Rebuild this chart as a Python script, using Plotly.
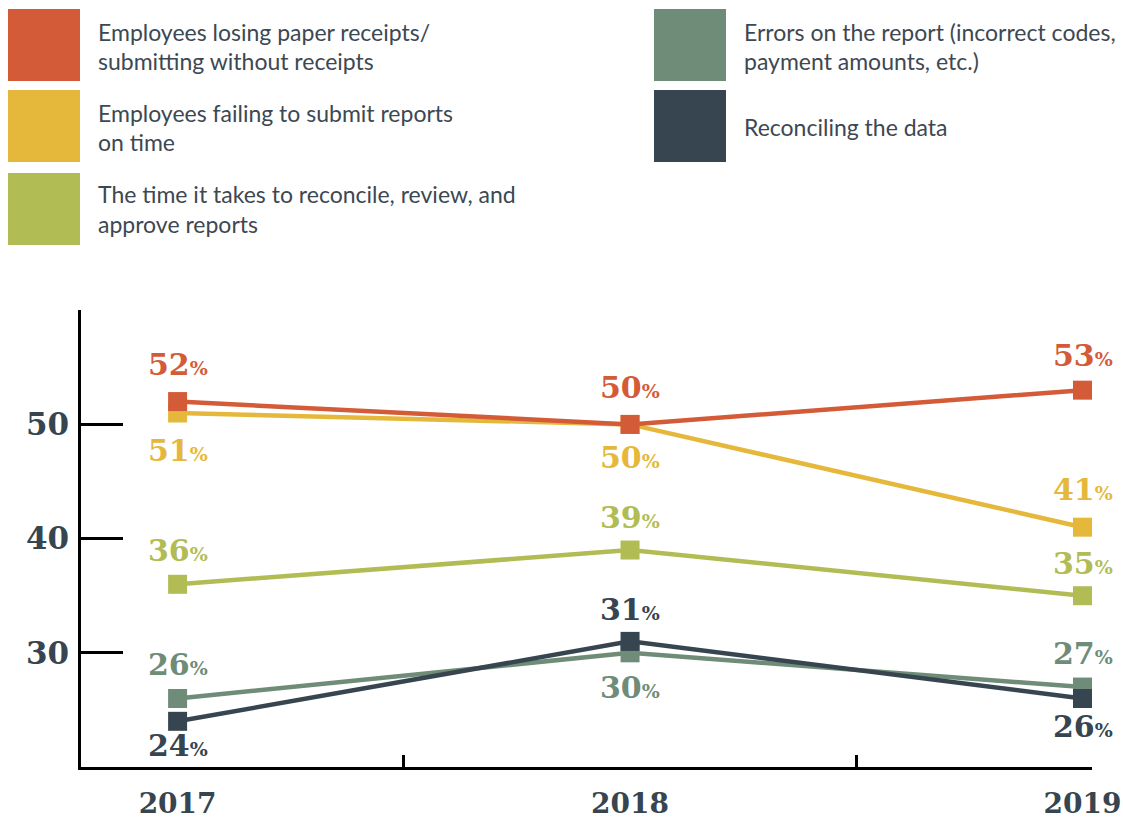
import plotly.graph_objects as go

# ---------------- data ----------------
years = [2017, 2018, 2019]

lost_receipts = [52, 50, 53]
late_reports = [51, 50, 41]
review_time = [36, 39, 35]
report_errors = [26, 30, 27]
reconciling = [24, 31, 26]

series_labels = [
    ["Employees losing paper receipts/", "submitting without receipts"],
    ["Employees failing to submit reports", "on time"],
    ["The time it takes to reconcile, review, and", "approve reports"],
    ["Errors on the report (incorrect codes,", "payment amounts, etc.)"],
    ["Reconciling the data"],
]
series_values = [lost_receipts, late_reports, review_time, report_errors, reconciling]
series_colors = ["#d45b37", "#e5b83b", "#b2bc55", "#6e8c78", "#36454f"]

y_tick_vals = [20, 30, 40, 50, 60]
y_tick_text = ["", "30", "40", "50", ""]
x_minor_ticks = [2017.5, 2018.5]

# value-label placement (pixel shift from the point; + above, - below)
label_shifts = [
    [37, 37, 35],
    [-37, -33, 38],
    [34, 33, 32],
    [34, -35, 34],
    [-24, 32, -28],
]

# ---------------- layout geometry ----------------
PLOT_L, PLOT_R, PLOT_T, PLOT_B = 81, 1092, 310, 767   # page pixels
W, H = 1123, 822
L, T = PLOT_L, PLOT_T
R, B = W - PLOT_R, H - PLOT_B
PW, PH = PLOT_R - PLOT_L, PLOT_B - PLOT_T


def px(x):
    return (x - PLOT_L) / PW


def py(y):
    return (PLOT_B - y) / PH


TEXT_DARK = "#36454f"
SERIF = "DejaVu Serif"

fig = go.Figure()

draw_order = [2, 3, 4, 1, 0]
for i in draw_order:
    fig.add_trace(go.Scatter(
        x=years, y=series_values[i], mode="lines+markers",
        line=dict(color=series_colors[i], width=4.5),
        marker=dict(symbol="square", size=19, color=series_colors[i]),
        showlegend=False, hoverinfo="skip",
    ))

annotations = []
for i, vals in enumerate(series_values):
    for j, v in enumerate(vals):
        annotations.append(dict(
            x=years[j], y=v, xref="x", yref="y",
            text=f"<b>{v}</b><span style='font-size:19px'><b>%</b></span>",
            showarrow=False, xanchor="center", yanchor="middle",
            yshift=label_shifts[i][j],
            font=dict(family=SERIF, size=30, color=series_colors[i]),
        ))

# legend: big squares + text (page pixel positions)
legend_pos = [
    (8, 9, [32, 61]),
    (8, 90, [113, 142]),
    (8, 173, [194, 224]),
    (654, 9, [32, 61]),
    (654, 90, [127]),
]
shapes = []
for i, (lx, ly, lines_y) in enumerate(legend_pos):
    shapes.append(dict(
        type="rect", xref="paper", yref="paper",
        x0=px(lx), x1=px(lx + 72), y0=py(ly + 72), y1=py(ly),
        fillcolor=series_colors[i], line=dict(width=0),
    ))
    for k, line_text in enumerate(series_labels[i]):
        annotations.append(dict(
            x=px(lx + 90), y=py(lines_y[k]), xref="paper", yref="paper",
            text=line_text, showarrow=False, xanchor="left", yanchor="middle",
            xshift=-2,
            font=dict(family="Lato", size=23, color="#3d4852"),
        ))

fig.update_layout(
    width=W, height=H,
    margin=dict(l=L, r=R, t=T, b=B, pad=0, autoexpand=False),
    paper_bgcolor="white", plot_bgcolor="white",
    annotations=annotations, shapes=shapes,
    xaxis=dict(
        range=[2016.7865, 2019.021], showgrid=False, zeroline=False,
        showline=True, linecolor="black", linewidth=2.5, automargin=False,
        tickvals=years, ticktext=[str(y) for y in years], ticks="",
        ticklabelstandoff=10,
        tickfont=dict(family=SERIF, size=28, color=TEXT_DARK, weight="bold"),
        minor=dict(tickvals=x_minor_ticks, ticks="inside", ticklen=12,
                   tickwidth=2.5, tickcolor="black"),
    ),
    yaxis=dict(
        range=[20, 60.02], showgrid=False, zeroline=False,
        showline=True, linecolor="black", linewidth=2.5, automargin=False,
        tickvals=y_tick_vals, ticktext=y_tick_text,
        ticks="inside", ticklen=42, tickwidth=2.5, tickcolor="black",
        ticklabelstandoff=3,
        tickfont=dict(family=SERIF, size=31, color=TEXT_DARK, weight="bold"),
    ),
)

fig.write_html(
    "out.html",
    config={"displayModeBar": False},
    post_script="document.body.style.margin='0px';"
                "document.body.style.overflow='hidden';",
)
